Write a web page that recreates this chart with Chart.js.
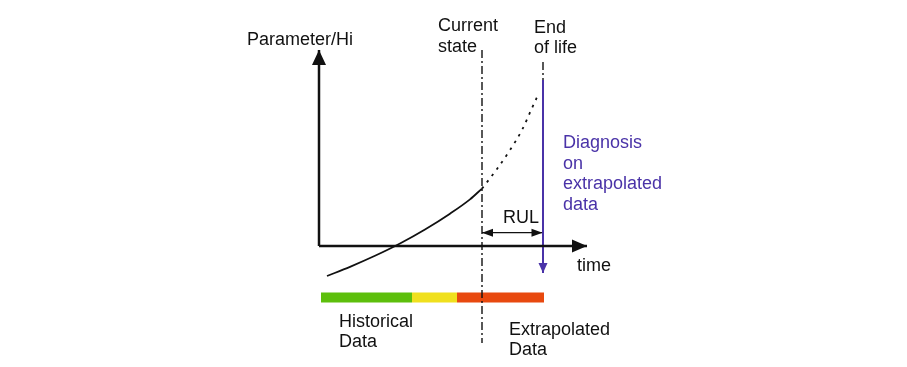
<!DOCTYPE html>
<html>
<head>
<meta charset="utf-8">
<script src="https://cdn.jsdelivr.net/npm/chart.js@4.4.1/dist/chart.umd.min.js"></script>
<style>
  html, body { margin: 0; padding: 0; background: #fff; }
  #wrap { width: 907px; height: 367px; }
</style>
</head>
<body>
<div id="wrap"><canvas id="diagram" width="907" height="367"></canvas></div>
<script>
// time along x, parameter/health indicator along y (arbitrary units)
const historyTime = [0.8, 3.1, 5.6, 8.1, 10.6, 13.1, 15.1, 16.3];
const historyValue = [-3.0, -2.08, -0.98, 0.25, 1.65, 3.23, 4.66, 5.74];
const forecastTime = [16.3, 17.8, 19.1, 20.3, 21.3, 22.0];
const forecastValue = [5.74, 7.7, 9.6, 11.6, 13.8, 15.3];

const currentTime = 16.3;
const endOfLifeTime = 22.4;
const axisEnds = { time: 26.8, value: 19.6 };

// history quality bar: green -> yellow -> red
const barStops = [0.2, 9.3, 13.8, 22.5];
const barColors = ['#5dbf0c', '#f0e01e', '#e8490f'];

const yAxisTitle = 'Parameter/Hi';
const xAxisTitle = 'time';
const markerNames = [['Current', 'state'], ['End', 'of life']];
const diagnosisText = ['Diagnosis', 'on', 'extrapolated', 'data'];
const rulLabel = 'RUL';
const barLabels = [['Historical', 'Data'], ['Extrapolated', 'Data']];

const PURPLE = '#4a33a8';
const INK = '#111';

const pts = (xs, ys) => xs.map((x, i) => ({ x, y: ys[i] }));
const seg = (x1, y1, x2, y2) => [{ x: x1, y: y1 }, { x: x2, y: y2 }];

const datasets = [
    // axes
    { data: seg(0, 0, 0, axisEnds.value), borderColor: INK, borderWidth: 2.5, arrow: { end: true, len: 15, half: 7 } },
    { data: seg(0, 0, axisEnds.time, 0), borderColor: INK, borderWidth: 2.5, arrow: { end: true, len: 15, half: 6.5 } },
    // parameter curve
    { data: pts(historyTime, historyValue), borderColor: INK, borderWidth: 1.8, cubicInterpolationMode: 'monotone' },
    { data: pts(forecastTime, forecastValue), borderColor: INK, borderWidth: 1.8, cubicInterpolationMode: 'monotone', borderDash: [2.5, 5.5] },
    // markers
    { data: seg(currentTime, axisEnds.value, currentTime, -9.7), borderColor: INK, borderWidth: 1.4, borderDash: [8, 3, 2, 3] },
    { data: seg(endOfLifeTime, 18.4, endOfLifeTime, 16.6), borderColor: INK, borderWidth: 1.4, borderDash: [8, 3, 2, 3] },
    { data: seg(endOfLifeTime, 16.6, endOfLifeTime, -2.7), borderColor: PURPLE, borderWidth: 2, arrow: { end: true, len: 10, half: 4.5 } },
    // RUL
    { data: seg(currentTime, 1.33, endOfLifeTime - 0.05, 1.33), borderColor: INK, borderWidth: 1.3, arrow: { start: true, end: true, len: 11, half: 4 } },
];

barColors.forEach((c, i) => {
    datasets.push({ data: seg(barStops[i], -5.15, barStops[i + 1], -5.15), borderColor: c, borderWidth: 10, borderCapStyle: 'butt' });
});

// label anchors (left / baseline, in chart units) and line spacing in px
const labelLayout = [
    { lines: [yAxisTitle], x: -7.2, y: 20.1, gap: 21, color: INK },
    { lines: markerNames[0], x: 11.9, y: 21.5, gap: 21, color: INK },
    { lines: markerNames[1], x: 21.5, y: 21.3, gap: 20, color: INK },
    { lines: diagnosisText, x: 24.4, y: 9.8, gap: 20.6, color: PURPLE },
    { lines: [xAxisTitle], x: 25.8, y: -2.5, gap: 20, color: INK },
    { lines: [rulLabel], x: 18.4, y: 2.3, gap: 20, color: INK },
    { lines: barLabels[0], x: 2.0, y: -8.1, gap: 20, color: INK },
    { lines: barLabels[1], x: 19.0, y: -8.9, gap: 20, color: INK },
];

const drawHead = (ctx, tip, from, len, half, color) => {
    const a = Math.atan2(tip.y - from.y, tip.x - from.x);
    ctx.save();
    ctx.translate(tip.x, tip.y);
    ctx.rotate(a);
    ctx.beginPath();
    ctx.moveTo(0, 0);
    ctx.lineTo(-len, -half);
    ctx.lineTo(-len, half);
    ctx.closePath();
    ctx.fillStyle = color;
    ctx.fill();
    ctx.restore();
};

const arrowPlugin = {
    id: 'arrows',
    afterDatasetsDraw(chart) {
        const ctx = chart.ctx;
        chart.data.datasets.forEach((ds, i) => {
            if (!ds.arrow) return;
            const p = chart.getDatasetMeta(i).data;
            const n = p.length;
            if (ds.arrow.end) drawHead(ctx, p[n - 1], p[n - 2], ds.arrow.len, ds.arrow.half, ds.borderColor);
            if (ds.arrow.start) drawHead(ctx, p[0], p[1], ds.arrow.len, ds.arrow.half, ds.borderColor);
        });
    }
};

const textPlugin = {
    id: 'texts',
    afterDraw(chart) {
        const ctx = chart.ctx;
        const sx = chart.scales.x, sy = chart.scales.y;
        ctx.save();
        ctx.font = '18px "Liberation Sans", Arial, sans-serif';
        ctx.textAlign = 'left';
        ctx.textBaseline = 'alphabetic';
        labelLayout.forEach(l => {
            const px = sx.getPixelForValue(l.x);
            const py = sy.getPixelForValue(l.y);
            ctx.fillStyle = l.color;
            l.lines.forEach((t, k) => ctx.fillText(t, px, py + k * l.gap));
        });
        ctx.restore();
    }
};

new Chart(document.getElementById('diagram'), {
    type: 'scatter',
    data: { datasets: datasets.map(d => ({ showLine: true, pointRadius: 0, fill: false, ...d })) },
    options: {
        responsive: false,
        animation: false,
        devicePixelRatio: 1,
        layout: { padding: 0 },
        plugins: { legend: { display: false }, tooltip: { enabled: false } },
        scales: {
            x: { type: 'linear', min: -31.9, max: 58.8, display: false },
            y: { type: 'linear', min: -12.1, max: 24.6, display: false }
        }
    },
    plugins: [arrowPlugin, textPlugin]
});
</script>
</body>
</html>
